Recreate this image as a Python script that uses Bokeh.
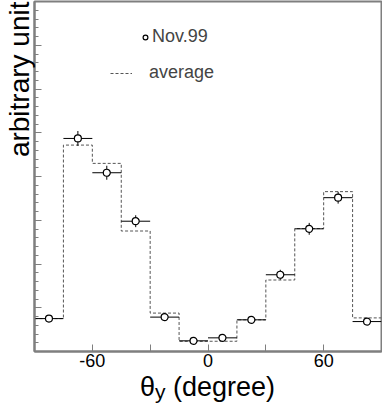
from bokeh.plotting import figure
from bokeh.layouts import column
from bokeh.models import Range1d, FixedTicker, Legend, LegendItem, Title, Div
from bokeh.embed import file_html
from bokeh.resources import INLINE

# ---- data ----
bin_centers = [-82.5, -67.5, -52.5, -37.5, -22.5, -7.5, 7.5, 22.5, 37.5, 52.5, 67.5, 82.5]
bin_width = 15
nov99 = [3.76, 24.35, 20.43, 14.89, 3.93, 1.22, 1.56, 3.62, 8.77, 14.02, 17.58, 3.42]
nov99_err = [0.35, 0.85, 0.80, 0.68, 0.35, 0.25, 0.30, 0.35, 0.57, 0.68, 0.68, 0.35]
average = [3.76, 23.59, 21.50, 13.77, 4.39, 1.16, 1.17, 3.62, 8.17, 14.05, 18.27, 3.84]
x_ticks = [-60, -30, 0, 30, 60]
x_tick_labels = {-60: "-60", -30: "", 0: "0", 30: "", 60: "60"}
y_major = [0, 5, 10, 15, 20, 25, 30, 35, 40]
y_minor = list(range(0, 41))

FONT = "Liberation Sans"
AX = "#7f7f7f"

p = figure(width=382, height=374, output_backend="svg", toolbar_location=None,
           x_range=Range1d(-90, 90), y_range=Range1d(0, 40),
           min_border_left=34, min_border_right=1, min_border_top=1, min_border_bottom=23)
p.margin = 0
p.background_fill_color = "white"
p.border_fill_color = "white"
p.xgrid.visible = False
p.ygrid.visible = False
p.outline_line_color = AX
p.outline_line_width = 2

# x axis
xa = p.xaxis[0]
xa.ticker = FixedTicker(ticks=x_ticks, minor_ticks=[])
xa.major_label_overrides = x_tick_labels
xa.major_label_text_font = FONT
xa.major_label_text_font_size = "18px"
xa.major_label_text_color = "black"
xa.major_label_standoff = 2
xa.axis_line_color = AX
xa.axis_line_width = 2
xa.major_tick_line_color = AX
xa.major_tick_in = 7
xa.major_tick_out = 0
xa.minor_tick_line_color = None

# y axis (no labels)
ya = p.yaxis[0]
ya.ticker = FixedTicker(ticks=y_major, minor_ticks=y_minor)
ya.major_label_overrides = {v: "" for v in y_major}
ya.major_label_text_font_size = "1px"
ya.major_label_standoff = 0
ya.axis_line_color = AX
ya.axis_line_width = 2
ya.major_tick_line_color = AX
ya.major_tick_in = 7
ya.major_tick_out = 0
ya.minor_tick_line_color = AX
ya.minor_tick_in = 4
ya.minor_tick_out = 0

# average histogram (dashed step)
edges = [c - bin_width / 2 for c in bin_centers] + [bin_centers[-1] + bin_width / 2]
step_r = p.step(x=edges, y=average + [average[-1]], mode="after",
                line_color="#555555", line_width=1, line_dash="3 2")

# Nov.99 data with error bars
p.segment(x0=[c - bin_width / 2 for c in bin_centers], y0=nov99,
          x1=[c + bin_width / 2 for c in bin_centers], y1=nov99,
          line_color="black", line_width=1)
p.segment(x0=bin_centers, y0=[v - e for v, e in zip(nov99, nov99_err)],
          x1=bin_centers, y1=[v + e for v, e in zip(nov99, nov99_err)],
          line_color="black", line_width=1)
circ_r = p.scatter(x=bin_centers, y=nov99, marker="circle", size=7,
                   fill_color="white", line_color="black", line_width=1.2)

# legends
leg1 = Legend(items=[LegendItem(label="Nov.99", renderers=[circ_r])],
              location=(105, 304), padding=0, margin=0, spacing=0,
              glyph_width=12, glyph_height=20, label_standoff=1,
              label_text_font=FONT, label_text_font_size="18px",
              border_line_color=None, background_fill_alpha=0)
leg2 = Legend(items=[LegendItem(label="average", renderers=[step_r])],
              location=(76, 268), padding=0, margin=0, spacing=0,
              glyph_width=22, glyph_height=20, label_standoff=17,
              label_text_font=FONT, label_text_font_size="18px",
              border_line_color=None, background_fill_alpha=0)
p.add_layout(leg1)
p.add_layout(leg2)

# y axis title, right aligned (top end) like the reference
ytitle = Title(text="arbitrary unit", align="right", text_font=FONT,
               text_font_size="28px", text_font_style="normal", text_color="black",
               standoff=0, offset=0)
p.add_layout(ytitle, "left")

# x axis title with subscript: θ_y (degree)
xtitle = Div(
    text=('<span style="font-family:\'Liberation Sans\';font-size:27px;line-height:27px;'
          'white-space:nowrap;color:black">θ'
          '<span style="font-size:21px;position:relative;top:3px">y</span>'
          ' (degree)</span>'),
    width=382, height=35, margin=0,
    styles={"padding-left": "140px", "line-height": "27px"})

layout = column(p, xtitle, spacing=0)
open("out.html", "w").write(file_html(layout, INLINE))
